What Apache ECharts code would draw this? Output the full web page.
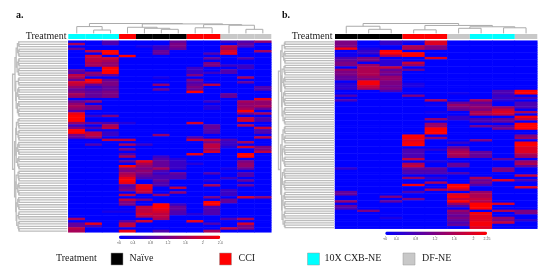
<!DOCTYPE html>
<html><head><meta charset="utf-8">
<style>html,body{margin:0;padding:0;background:#fff}#c{width:550px;height:276px}</style>
<script src="https://cdn.jsdelivr.net/npm/echarts@6/dist/echarts.min.js"></script>
</head><body><div id="c"></div>
<script>
// Each column: [rowIndex, value] pairs; rows not listed read as 0 (full blue).
const a1=[[1,1.6],[3,1],[12,1],[13,.8],[14,1.8],[15,1.6],[16,1],[17,2],[18,1.8],[19,1.4],[20,1],[21,1.2],[22,1.6],[23,1.4],[25,1],[26,1.4],[27,1.6],[28,1.4],[29,.8],[30,2.2],[31,2.4],[32,2.4],[33,2.4],[34,1.4],[35,.6],[36,1.2],[37,2.4],[38,2.4],[39,1.2],[40,1],[74,1.6],[76,1],[77,1],[78,1.8],[79,1.6]];
const a2=[[4,1.8],[6,2],[7,1.8],[8,1.8],[9,1.6],[10,1.6],[13,1.4],[14,1.2],[16,2.4],[17,2.2],[18,1],[19,.6],[20,.8],[21,1],[22,1],[23,1],[25,1.4],[27,1.2],[28,1.2],[31,.6],[34,1],[36,.8],[38,1.8],[39,1.8],[40,1.4],[43,.8],[76,2.2],[77,.8]];
const a3=[[0,.8],[1,.8],[4,2.4],[5,2.4],[7,2],[8,1.6],[9,1.4],[10,1.4],[11,2.4],[12,2.4],[13,2.4],[14,1],[16,1],[17,1.2],[18,1.2],[19,1],[20,1],[21,1.2],[22,1.2],[23,1.2],[31,1.2],[34,.8],[35,1.6],[36,1.8],[37,.2],[38,.6],[39,.6],[41,1.8],[71,.3]];
const a4=[[6,2.4],[34,.4],[41,1.8],[43,1.6],[45,1.2],[47,.8],[48,1.6],[50,1],[52,2.4],[53,1.4],[54,1.2],[55,1.6],[56,1.8],[57,2.2],[58,2.4],[59,2.2],[60,.8],[61,1],[62,1.2],[64,1.8],[66,1.8],[67,1.2],[68,1.2],[71,.3],[75,.8],[76,1.8],[77,1.8],[79,2.2]];
const a5=[[2,.3],[43,.6],[50,2.2],[51,1.6],[52,1.4],[53,1.2],[54,1.4],[55,1.2],[56,1],[57,.8],[60,2.2],[61,2.2],[62,2],[63,1.8],[66,1.2],[69,1.8],[70,1.8],[71,1.8],[72,2],[73,1.6],[75,2]];
const a6=[[2,.6],[3,.6],[4,1],[5,1],[15,.3],[18,1.4],[20,1],[39,1.4],[48,.6],[49,.8],[50,1],[51,1],[52,1],[53,1.6],[54,.8],[55,.6],[56,.8],[57,.8],[58,1],[59,.8],[60,.8],[64,1.4],[68,2.4],[69,2.4],[70,2.2],[71,2],[72,1.8],[73,1.8],[74,1.6],[79,.8]];
const a7=[[0,1],[1,1.2],[2,1.2],[3,1],[49,.4],[50,.6],[51,.6],[52,.6],[53,.6],[55,1],[56,.8],[57,.8],[61,1.8],[63,1.4],[68,.6],[69,1],[70,1],[71,.8],[72,.8]];
const a8=[[11,.6],[12,.6],[13,.6],[14,1.2],[16,1.2],[17,.8],[18,1],[19,1.2],[20,1],[21,2.4],[34,2],[40,.8],[41,1.8],[47,2.2],[51,.4],[72,.4],[75,2.2]];
const a9=[[5,.8],[7,1],[9,1.2],[10,1.2],[13,.6],[18,1.8],[25,.6],[27,.4],[28,.4],[35,1],[36,1],[37,.8],[38,.8],[41,1.8],[42,1.2],[43,1.8],[44,1.8],[45,1.6],[46,2],[55,.8],[58,.4],[60,1.6],[65,1.2],[67,2.4],[68,2.4],[69,.8],[70,.8],[71,.8],[72,.8],[76,.8],[79,1.6]];
const a10=[[0,.6],[2,1.8],[3,1.6],[4,2],[5,2.2],[10,.6],[12,.8],[13,.8],[22,1],[23,1],[41,.8],[42,.6],[43,.6],[44,.4],[53,.3],[57,.6],[62,.6],[63,.6],[64,.6],[66,1],[67,1],[74,.8],[78,1.8]];
const a11=[[0,.8],[1,1],[2,.8],[7,.8],[10,.6],[11,.6],[15,1.6],[17,1],[25,1.6],[26,1.4],[27,1.4],[28,1.6],[29,2.4],[30,1.2],[32,1.8],[33,2],[35,1.8],[42,1.6],[44,2],[47,2.4],[48,2.4],[50,1.2],[51,1.4],[52,1.4],[53,1],[55,.8],[56,.8],[58,1],[60,1],[65,2],[74,1.6],[76,2],[77,1.2],[78,1.2]];
const a12=[[0,1.4],[4,1.6],[19,.8],[20,.8],[24,2.2],[25,1.4],[26,1.4],[27,1.6],[28,1],[30,1.6],[32,.8],[33,.8],[36,1.9],[37,.8],[38,.8],[40,1.8],[44,1.2],[45,1.2],[46,1.8],[65,1.4]];

const b1=[[0,1.2],[1,1.2],[2,1.2],[3,2.2],[5,.3],[6,.3],[7,.8],[8,1],[9,1.2],[10,1.2],[12,1.4],[13,1.2],[14,1.2],[15,1],[16,1],[18,.5],[19,.5],[20,.6],[23,.8],[25,.8],[54,.6],[64,1],[65,1],[68,1.4],[70,1],[71,.8]];
const b2=[[3,.4],[4,.6],[5,.6],[7,1.2],[8,1.2],[10,1.4],[11,1.6],[12,1.6],[13,1.6],[14,1.6],[15,1.4],[16,1.2],[17,2.2],[18,2.2],[19,1.8],[20,1.6],[72,1.2]];
const b3=[[0,.6],[1,.6],[4,2.4],[5,2.4],[6,1.6],[8,.5],[9,.5],[10,.5],[11,1.8],[12,1],[13,1.2],[14,1],[15,1.4],[16,1.4],[17,1.2],[18,1.2],[19,1.1],[20,1.2],[21,.8],[66,1.2],[68,1],[73,.2],[75,.4]];
const b4=[[0,.4],[2,1.6],[3,1.6],[5,2.4],[6,2.4],[9,1.8],[10,1.4],[12,1],[18,.4],[19,.4],[23,1.2],[40,2.4],[41,2.2],[42,2],[43,2.2],[44,2.4],[46,.8],[47,.8],[48,.8],[49,.8],[50,1.8],[52,1.6],[53,1.8],[54,1],[55,.8],[56,.8],[58,1.4],[61,2.2],[64,.8],[67,1.2]];
const b5=[[0,2],[1,2],[2,1.2],[3,1.2],[7,2],[25,1.6],[27,.3],[30,.3],[33,1.4],[35,1.4],[36,1.4],[37,2.4],[38,2.4],[39,2.4],[41,1.4],[46,.5],[51,.4],[54,1],[55,.8],[56,.8],[58,.6],[60,1.6],[63,1.6]];
const b6=[[22,.3],[26,1],[27,1.4],[28,1.2],[29,1],[32,.6],[33,.6],[43,.6],[45,1],[46,1.4],[47,1.6],[48,1.6],[49,1.4],[52,1],[53,1],[56,.8],[61,2.4],[62,2.4],[63,1.8],[65,2],[66,2.2],[67,1.8],[68,2.4],[69,1.4],[70,.8],[72,1.4],[73,1.2],[74,1],[75,1.2],[76,1],[77,.8],[78,1]];
const b7=[[25,1.6],[26,1],[27,1.2],[28,1.4],[29,1.2],[30,1.6],[31,1.6],[33,.8],[34,.8],[36,1.1],[42,1.2],[47,1],[48,1],[49,1],[58,1.6],[59,1],[60,1.2],[61,.8],[64,1.4],[65,1.6],[66,1.6],[67,1.8],[68,1.6],[69,2.4],[70,2.4],[71,2.4],[73,2.2],[74,2],[75,2],[76,2],[77,2.2],[78,2.2],[79,2]];
const b8=[[21,.8],[22,.8],[23,.6],[24,.7],[25,.5],[28,1.4],[29,1.8],[30,2],[31,1.8],[33,1],[34,1],[36,.8],[37,1.2],[50,1],[54,1.2],[55,1.2],[59,2],[69,2],[72,1.6],[75,1.4],[76,1.2],[77,1.8]];
const b9=[[21,2.4],[22,2.4],[24,.8],[26,.8],[27,.8],[28,.8],[30,1.6],[32,2.2],[33,1.8],[35,2.4],[36,2.4],[37,2.4],[40,1.2],[41,1.4],[43,2.2],[44,2.4],[45,2],[46,2],[47,2],[48,1.6],[49,1.4],[51,1.4],[52,1.6],[53,1],[57,1.8],[59,.8],[62,2],[72,1.2],[73,1.2],[76,.6]];

const treatmentA=['CXB','CXB','CXB','CCI','Naive','Naive','Naive','CCI','CCI','DF','DF','DF'];
const treatmentB=['Naive','Naive','Naive','CCI','CCI','DF','CXB','CXB','DF'];
const treatmentColors={Naive:'#000000',CCI:'#ff0000',CXB:'#00ffff',DF:'#c8c8c8'};

const rowCount=80;
const treeTopA=[.97,[.67,0,[.33,1,2]],[.93,[.6,3,[.5,4,[.4,5,6]]],[.86,[.55,7,8],[.8,9,[.4,10,11]]]]];
const treeTopB=[.97,[.7,0,[.4,1,2]],[.78,[.35,3,4],[.65,[.5,5,6],[.55,7,8]]]];
const rowClustersA=[0,7,15,19,25,32,42,48,54,65,71,80];
const rowClustersB=[0,4,10,21,28,36,44,54,64,72,80];

const ticksA=[.08,.4,.8,1.2,1.6,2,2.4];
const tickLabelsA=['<0','0.4','0.8','1.2','1.6','2','2.4'];
const ticksB=[.17,.4,.8,1.2,1.6,2,2.28];
const tickLabelsB=['<0','0.4','0.8','1.2','1.6','2','2.25'];

const legendItems=[['Naïve','Naive'],['CCI','CCI'],['10X CXB-NE','CXB'],['DF-NE','DF']];

const grid=[],xAxis=[],yAxis=[],series=[],visualMap=[];
const SERIF='"Liberation Serif","DejaVu Serif",serif';
const DEND='#ababab';

function addGrid(left,top,width,height,x,y){
  grid.push({left,top,width,height,containLabel:false});
  const i=grid.length-1;
  xAxis.push(Object.assign({gridIndex:i,show:false},x));
  yAxis.push(Object.assign({gridIndex:i,show:false},y));
  return i;
}
function treeLines(node,out){
  if(typeof node==='number') return {p:node+.5,h:0};
  const l=treeLines(node[1],out),r=treeLines(node[2],out),h=node[0];
  out.push({coords:[[l.p,l.h],[l.p,h],[r.p,h],[r.p,r.h]]});
  return {p:(l.p+r.p)/2,h};
}
function rowLines(breaks){
  const out=[];
  const join=(a,b,h)=>{out.push({coords:[[a.h,a.p],[h,a.p],[h,b.p],[b.h,b.p]]});return {p:(a.p+b.p)/2,h};};
  const leaves=(lo,hi)=>{
    if(hi-lo===1) return {p:lo+.5,h:0};
    const m=(lo+hi)>>1;
    return join(leaves(lo,m),leaves(m,hi),.87+.006*(hi-lo));
  };
  const tops=[];
  for(let i=0;i+1<breaks.length;i++) tops.push(leaves(breaks[i],breaks[i+1]));
  const up=(lo,hi)=>{
    if(hi-lo===1) return tops[lo];
    const m=(lo+hi)>>1;
    return join(up(lo,m),up(m,hi),.92+.08*(hi-lo)/tops.length);
  };
  up(0,tops.length);
  return out;
}
function panel(cols,treatments,tree,clusters,box,legend,ticks,tickLabels){
  const n=cols.length, colNames=cols.map((_,i)=>'C'+(i+1));
  const rows=Array.from({length:rowCount},(_,i)=>'R'+(i+1));
  const data=[];
  cols.forEach((col,c)=>{
    const vals=new Map(col);
    rows.forEach((_,r)=>data.push([c,r,vals.get(r)||0]));
  });
  const g=addGrid(box.left,box.top,box.width,box.height,
    {type:'category',data:colNames},{type:'category',data:rows,inverse:true});
  series.push({type:'heatmap',xAxisIndex:g,yAxisIndex:g,data,progressive:0,silent:true,animation:false,
    itemStyle:{borderWidth:0},emphasis:{disabled:true}});
  visualMap.push({type:'continuous',seriesIndex:series.length-1,min:legend.min,max:legend.max,
    orient:'horizontal',left:legend.left,top:legend.top,itemWidth:3.4,itemHeight:legend.width,
    calculable:false,hoverLink:false,padding:0,text:null,showLabel:false,
    inRange:{color:['#0000ff','#ff0000']},textStyle:{fontSize:1,color:'rgba(0,0,0,0)'}});
  const gb=addGrid(box.left,34,box.width,5,{type:'category',data:colNames},{type:'value',min:0,max:1});
  series.push({type:'bar',xAxisIndex:gb,yAxisIndex:gb,barWidth:'100%',silent:true,animation:false,
    data:treatments.map(t=>({value:1,itemStyle:{color:treatmentColors[t]}}))});
  const gt=addGrid(box.left,23.2,box.width,10.2,{type:'value',min:0,max:n},{type:'value',min:0,max:1});
  const top=[];treeLines(tree,top);
  series.push({type:'lines',coordinateSystem:'cartesian2d',polyline:true,xAxisIndex:gt,yAxisIndex:gt,
    data:top,silent:true,animation:false,lineStyle:{color:DEND,width:1,opacity:1}});
  const gl=addGrid(box.left-box.dend,box.top,box.dend-1,box.height,
    {type:'value',min:0,max:1,inverse:true},{type:'value',min:0,max:rowCount,inverse:true});
  series.push({type:'lines',coordinateSystem:'cartesian2d',polyline:true,xAxisIndex:gl,yAxisIndex:gl,
    data:rowLines(clusters),silent:true,animation:false,lineStyle:{color:'#bcbcbc',width:1.3,opacity:1}});
  const ga=addGrid(legend.left,legend.top+3.4,legend.width,1,
    {type:'value',min:legend.min,max:legend.max,show:true,
     axisLine:{show:false},splitLine:{show:false},
     axisTick:{show:true,length:1,customValues:ticks,lineStyle:{color:'#888',width:.5}},
     axisLabel:{show:true,customValues:ticks,fontSize:3.5,color:'#555',margin:1.5,fontFamily:'Liberation Sans',
       showMinLabel:true,showMaxLabel:true,hideOverlap:false,
       formatter:v=>tickLabels[ticks.findIndex(t=>Math.abs(t-v)<1e-6)]||''}},
    {type:'value',min:0,max:1});
}
panel([a1,a2,a3,a4,a5,a6,a7,a8,a9,a10,a11,a12],treatmentA,treeTopA,rowClustersA,
  {left:68.3,top:40.7,width:203,height:191.6,dend:55.7},
  {left:119,top:235.6,width:101.3,min:.08,max:2.4},ticksA,tickLabelsA);
panel([b1,b2,b3,b4,b5,b6,b7,b8,b9],treatmentB,treeTopB,rowClustersB,
  {left:335,top:40.7,width:202.3,height:188,dend:56.5},
  {left:385.3,top:231.6,width:101.7,min:.17,max:2.28},ticksB,tickLabelsB);

const graphic=[];
const txt=(x,y,s,o)=>graphic.push({type:'text',x,y,silent:true,style:Object.assign({text:s,fill:'#222',font:'10px '+SERIF,textVerticalAlign:'middle'},o||{})});
txt(16,15.5,'a.',{font:'bold 10px '+SERIF,fill:'#111'});
txt(282,15.5,'b.',{font:'bold 10px '+SERIF,fill:'#111'});
txt(66.5,36,'Treatment',{textAlign:'right'});
txt(332.5,36,'Treatment',{textAlign:'right'});
txt(56,258.5,'Treatment');
const swatchX=[111,219.5,307.5,403];
const labelX=[129.5,238.5,324.5,422];
legendItems.forEach(([name,key],i)=>{
  graphic.push({type:'rect',silent:true,shape:{x:swatchX[i],y:253,width:12,height:12},
    style:{fill:treatmentColors[key],stroke:'#9a9a9a',lineWidth:.5}});
  txt(labelX[i],258.5,name);
});

const chart=echarts.init(document.getElementById('c'),null,{renderer:'canvas'});
chart.setOption({animation:false,backgroundColor:'#fff',grid,xAxis,yAxis,series,visualMap,graphic,tooltip:{show:false}});
</script></body></html>
